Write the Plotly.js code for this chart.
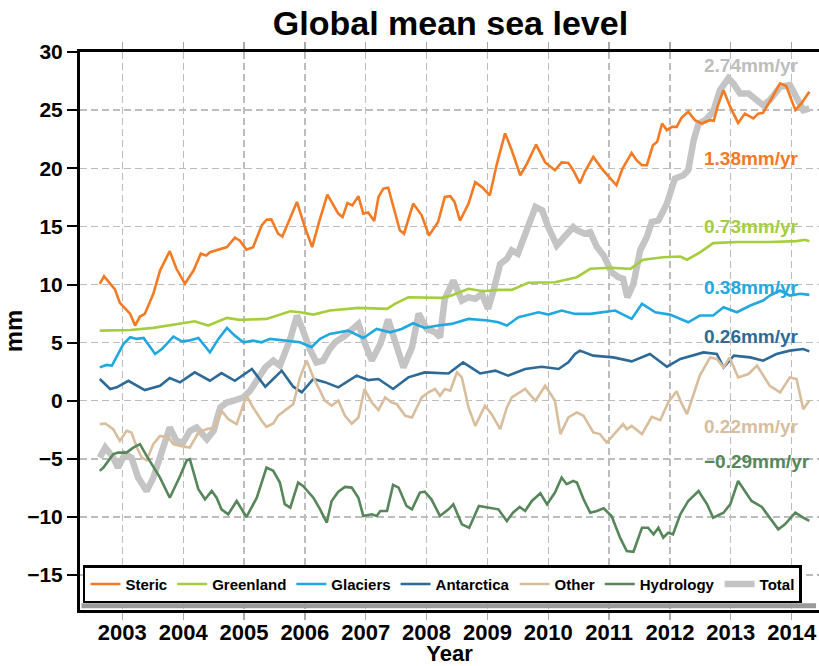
<!DOCTYPE html>
<html>
<head>
<meta charset="utf-8">
<script src="https://cdn.plot.ly/plotly-3.0.1.min.js"></script>
<style>html,body{margin:0;padding:0;background:#fff;}#chart{width:819px;height:666px;}</style>
</head>
<body>
<div id="chart"></div>
<script>
// ---- data ----
const seriesNames = ["Steric","Greenland","Glaciers","Antarctica","Other","Hydrology","Total"];
const rateLabels = ["1.38mm/yr","0.73mm/yr","0.38mm/yr","0.26mm/yr","0.22mm/yr","\u22120.29mm/yr","2.74mm/yr"];
const yearTicks = [2003,2004,2005,2006,2007,2008,2009,2010,2011,2012,2013,2014];
const mmTicks = [-15,-10,-5,0,5,10,15,20,25,30];

const stericX = [2002.63,2002.70,2002.88,2002.96,2003.13,2003.21,2003.29,2003.37,2003.51,2003.62,
 2003.78,2003.89,2004.03,2004.17,2004.29,2004.38,2004.44,2004.72,2004.85,2004.93,
 2005.04,2005.15,2005.29,2005.37,2005.45,2005.56,2005.63,2005.76,2005.87,2006.00,
 2006.12,2006.24,2006.37,2006.55,2006.62,2006.70,2006.78,2006.88,2006.96,2007.04,
 2007.14,2007.21,2007.29,2007.37,2007.48,2007.56,2007.63,2007.78,2007.92,2008.04,
 2008.19,2008.30,2008.39,2008.46,2008.55,2008.69,2008.80,2008.91,2009.04,2009.15,
 2009.29,2009.40,2009.54,2009.65,2009.80,2009.95,2010.11,2010.22,2010.33,2010.41,
 2010.52,2010.60,2010.74,2010.90,2011.12,2011.22,2011.37,2011.45,2011.54,2011.62,
 2011.72,2011.79,2011.87,2011.95,2012.03,2012.11,2012.19,2012.30,2012.41,2012.52,
 2012.66,2012.72,2012.79,2012.88,2012.99,2013.12,2013.23,2013.37,2013.45,2013.53,
 2013.67,2013.81,2013.91,2014.06,2014.16,2014.29];
const stericY = [10.06,10.7,9.57,8.42,7.47,6.47,7.24,7.47,9.2,11.2,
 12.87,11.35,10.06,11.2,12.65,12.5,12.78,13.22,14.02,13.79,
 13.0,13.2,15.09,15.57,15.6,14.37,14.13,15.8,17.1,14.94,
 13.22,15.5,17.73,16.1,15.8,17.0,16.8,17.6,16.1,16.2,
 15.46,17.53,18.25,18.33,16.1,14.66,14.37,16.96,15.95,14.22,
 15.37,17.53,17.6,17.1,15.5,16.96,18.8,18.38,17.67,20.26,
 23.0,21.55,19.4,20.4,22.04,20.5,19.83,20.5,20.46,19.83,
 18.7,19.7,20.97,19.83,18.53,19.97,21.32,20.7,20.26,20.26,
 21.98,22.27,23.85,23.28,23.56,23.56,24.34,24.86,24.14,23.85,
 24.14,24.08,25.43,26.72,25.28,23.9,24.7,24.28,24.7,24.77,
 26.0,27.3,27.07,25.0,25.57,26.58];

const greenlandX = [2002.63,2003.13,2003.51,2003.95,2004.19,2004.41,2004.72,2004.93,2005.37,2005.76,
 2005.92,2006.14,2006.41,2006.88,2007.35,2007.48,2007.70,2008.25,2008.41,2008.69,
 2008.93,2009.18,2009.40,2009.67,2010.11,2010.47,2010.69,2011.02,2011.35,2011.56,
 2011.89,2012.17,2012.28,2012.50,2012.71,2013.10,2013.64,2014.08,2014.22,2014.29];
const greenlandY = [6.03,6.09,6.27,6.67,6.84,6.47,7.13,6.96,7.04,7.7,
 7.61,7.41,7.76,7.99,7.9,8.34,8.9,8.85,9.05,9.63,
 9.42,9.54,9.54,10.15,10.2,10.63,11.35,11.44,11.35,12.13,
 12.35,12.41,12.13,12.78,13.56,13.65,13.65,13.73,13.85,13.73];

const glaciersX = [2002.63,2002.74,2002.83,2003.02,2003.13,2003.24,2003.35,2003.54,2003.65,2003.84,
 2003.98,2004.09,2004.25,2004.44,2004.58,2004.72,2004.85,2004.99,2005.15,2005.29,
 2005.43,2005.59,2005.76,2005.92,2006.11,2006.25,2006.41,2006.55,2006.71,2006.96,
 2007.18,2007.40,2007.59,2007.78,2007.97,2008.19,2008.41,2008.69,2009.01,2009.18,
 2009.32,2009.51,2009.84,2010.00,2010.22,2010.44,2010.69,2011.10,2011.37,2011.54,
 2011.76,2012.00,2012.30,2012.49,2012.71,2012.88,2013.10,2013.32,2013.53,2013.64,
 2013.81,2013.97,2014.14,2014.29];
const glaciersY = [2.87,3.08,3.02,4.89,5.46,5.32,5.4,4.02,4.45,5.52,
 5.11,5.17,5.4,4.16,5.32,6.27,5.6,5.03,5.17,5.03,
 5.32,5.23,5.17,5.03,4.6,5.32,5.75,5.89,6.03,5.4,
 6.18,5.89,6.18,6.67,6.27,6.47,6.61,7.04,6.9,6.75,
 6.47,7.18,7.61,7.41,7.76,7.47,7.47,7.76,7.04,8.34,
 7.61,7.41,6.75,7.33,7.33,8.04,7.61,8.19,8.62,9.05,
 9.48,9.05,9.2,9.11];

const antarcticaX = [2002.63,2002.80,2002.91,2003.10,2003.37,2003.62,2003.78,2003.95,2004.19,2004.44,
 2004.63,2004.85,2005.13,2005.35,2005.62,2005.81,2005.95,2006.14,2006.33,2006.55,
 2006.85,2007.04,2007.21,2007.45,2007.70,2007.97,2008.36,2008.60,2008.88,2009.13,
 2009.34,2009.62,2009.89,2010.17,2010.33,2010.44,2010.52,2010.74,2011.07,2011.37,
 2011.67,2011.95,2012.17,2012.55,2012.77,2012.88,2013.05,2013.32,2013.53,2013.75,
 2013.97,2014.19,2014.29];
const antarcticaY = [1.87,1.01,1.15,1.72,0.92,1.29,1.95,1.58,2.44,1.72,
 2.38,1.72,2.73,1.21,2.59,1.21,0.72,1.87,1.6,1.15,
 2.16,1.78,1.87,1.01,2.01,2.44,2.35,3.3,2.35,2.59,
 2.16,2.73,2.93,2.73,3.3,4.02,4.31,3.88,3.73,3.39,
 4.02,2.93,3.6,4.16,4.02,2.87,3.88,3.73,3.45,4.02,
 4.31,4.45,4.25];

const otherX = [2002.63,2002.72,2002.85,2002.96,2003.07,2003.15,2003.24,2003.32,2003.40,2003.51,
 2003.62,2003.76,2003.84,2003.95,2004.11,2004.25,2004.39,2004.52,2004.63,2004.74,
 2004.88,2005.04,2005.15,2005.29,2005.37,2005.48,2005.56,2005.73,2005.81,2005.92,
 2006.03,2006.14,2006.25,2006.33,2006.44,2006.55,2006.66,2006.77,2006.88,2006.98,
 2007.10,2007.21,2007.32,2007.43,2007.51,2007.65,2007.76,2007.92,2008.03,2008.14,
 2008.22,2008.30,2008.39,2008.50,2008.58,2008.69,2008.80,2008.96,2009.07,2009.21,
 2009.32,2009.40,2009.62,2009.79,2009.95,2010.11,2010.20,2010.33,2010.47,2010.58,
 2010.74,2010.85,2010.96,2011.23,2011.29,2011.37,2011.54,2011.70,2011.84,2011.97,
 2012.11,2012.17,2012.28,2012.41,2012.49,2012.66,2012.77,2012.88,2012.98,2013.12,
 2013.29,2013.43,2013.64,2013.81,2013.97,2014.08,2014.19,2014.29];
const otherY = [-2.01,-1.96,-2.44,-3.45,-2.59,-2.73,-4.02,-4.89,-5.11,-3.73,
 -3.02,-3.16,-3.73,-3.88,-4.02,-2.73,-2.44,-2.3,-0.86,-1.58,
 -2.01,0.43,-0.58,-1.72,-2.24,-1.96,-1.29,-0.58,-0.29,2.01,
 3.45,2.01,0.86,0.0,-0.43,0.0,-1.29,-1.96,-1.44,1.01,
 -0.15,-0.8,0.29,-0.15,-0.29,-1.29,-1.44,0.29,0.72,1.01,
 0.43,1.01,0.86,2.44,2.01,-0.58,-2.16,-0.43,-1.15,-2.44,
 -0.58,0.29,1.01,0.0,1.29,0.0,-2.87,-1.44,-1.0,-1.29,
 -2.73,-2.87,-3.6,-2.01,-2.44,-2.16,-2.87,-1.38,-1.67,-0.15,
 0.81,0.0,-1.15,1.01,2.16,3.73,3.6,2.87,3.73,2.01,
 2.3,3.02,1.29,0.72,2.01,1.87,-0.72,0.0];

const hydrologyX = [2002.63,2002.69,2002.85,2002.93,2003.07,2003.18,2003.29,2003.40,2003.62,2003.78,
 2003.95,2004.06,2004.11,2004.25,2004.36,2004.47,2004.55,2004.63,2004.74,2004.88,
 2005.04,2005.21,2005.37,2005.48,2005.59,2005.67,2005.76,2005.89,2005.97,2006.14,
 2006.25,2006.36,2006.44,2006.55,2006.66,2006.77,2006.88,2006.96,2007.10,2007.18,
 2007.24,2007.35,2007.45,2007.54,2007.67,2007.76,2007.89,2007.97,2008.08,2008.22,
 2008.36,2008.44,2008.58,2008.70,2008.86,2009.01,2009.18,2009.32,2009.42,2009.53,
 2009.62,2009.73,2009.87,2009.98,2010.11,2010.22,2010.30,2010.41,2010.47,2010.58,
 2010.69,2010.80,2010.91,2011.04,2011.18,2011.29,2011.40,2011.54,2011.64,2011.73,
 2011.81,2011.89,2011.97,2012.05,2012.17,2012.30,2012.47,2012.61,2012.71,2012.88,
 2012.99,2013.12,2013.26,2013.34,2013.51,2013.64,2013.78,2013.89,2014.06,2014.19,
 2014.29];
const hydrologyY = [-6.03,-5.75,-4.6,-4.46,-4.46,-4.03,-3.73,-4.74,-6.61,-8.34,
 -6.47,-5.11,-5.03,-7.61,-8.48,-7.76,-8.34,-9.34,-9.77,-8.62,
 -10.0,-8.34,-5.75,-6.03,-7.04,-8.9,-9.2,-7.04,-7.33,-8.34,
 -9.34,-10.49,-8.62,-7.82,-7.41,-7.47,-8.34,-9.91,-9.77,-9.91,
 -9.48,-9.48,-7.24,-7.47,-9.05,-9.34,-7.9,-7.82,-8.48,-9.91,
 -9.34,-8.91,-10.63,-10.92,-9.05,-9.2,-9.34,-10.34,-9.63,-9.14,
 -9.48,-8.62,-7.96,-8.91,-7.9,-6.61,-7.18,-6.9,-7.04,-8.48,
 -9.63,-9.48,-9.25,-9.91,-11.78,-12.93,-12.99,-10.92,-10.92,-11.49,
 -10.92,-11.78,-11.35,-11.49,-9.77,-8.62,-7.76,-8.91,-10.06,-9.63,
 -8.91,-6.9,-8.05,-8.62,-9.14,-10.06,-11.06,-10.63,-9.63,-10.06,
 -10.34];

const totalX = [2002.63,2002.72,2002.85,2002.93,2003.04,2003.15,2003.26,2003.40,2003.51,2003.62,
 2003.78,2003.89,2004.00,2004.11,2004.22,2004.39,2004.50,2004.61,2004.72,2004.83,
 2004.99,2005.10,2005.21,2005.35,2005.48,2005.59,2005.76,2005.87,2005.97,2006.08,
 2006.19,2006.30,2006.41,2006.50,2006.66,2006.88,2006.99,2007.10,2007.24,2007.37,
 2007.48,2007.62,2007.76,2007.87,2008.00,2008.14,2008.22,2008.30,2008.44,2008.58,
 2008.69,2008.80,2008.91,2009.01,2009.10,2009.21,2009.32,2009.40,2009.50,2009.62,
 2009.79,2009.90,2010.00,2010.14,2010.28,2010.41,2010.47,2010.60,2010.69,2010.80,
 2010.91,2011.04,2011.15,2011.23,2011.30,2011.40,2011.51,2011.62,2011.70,2011.81,
 2011.95,2012.08,2012.22,2012.30,2012.39,2012.47,2012.58,2012.71,2012.82,2012.96,
 2013.04,2013.15,2013.29,2013.43,2013.53,2013.64,2013.81,2013.97,2014.08,2014.19,
 2014.29];
const totalY = [-4.89,-4.03,-4.89,-5.75,-4.6,-4.89,-6.61,-7.76,-6.61,-4.89,
 -2.3,-3.45,-3.6,-2.59,-2.3,-3.3,-2.59,-0.58,-0.15,0.0,
 0.29,0.86,1.72,2.87,3.45,3.02,5.32,7.33,6.03,4.46,
 3.3,3.45,4.46,5.03,5.6,6.61,4.89,3.45,4.89,7.0,
 5.17,2.87,4.6,7.5,6.2,5.89,5.46,8.77,10.34,8.62,
 8.9,8.77,9.2,7.9,9.48,11.78,12.21,12.93,12.65,14.37,
 16.67,16.38,14.94,13.36,14.08,14.94,14.66,14.37,14.51,13.22,
 12.5,11.06,10.63,10.49,8.9,10.06,12.93,14.08,15.37,15.51,
 16.96,19.11,19.4,19.83,22.41,23.85,24.14,24.86,26.72,27.73,
 27.3,26.44,26.44,25.86,25.43,25.86,27.0,27.16,26.15,25.0,
 25.14];

// ---- styling ----
const colors = ["#F47A24","#A5CD3C","#22A8E0","#2D6A97","#D8BE9D","#57865B","#C4C4C4"];
const FONT = "Liberation Sans, Arial, sans-serif";

const xs = [stericX, greenlandX, glaciersX, antarcticaX, otherX, hydrologyX, totalX];
const ys = [stericY, greenlandY, glaciersY, antarcticaY, otherY, hydrologyY, totalY];

const traces = [];
// Total drawn first (underneath), legend order kept with legendrank
const drawOrder = [6,0,1,2,3,4,5];
drawOrder.forEach(i => {
  const n = Math.min(xs[i].length, ys[i].length);
  traces.push({
    type: "scatter", mode: "lines", name: seriesNames[i],
    x: xs[i].slice(0,n), y: ys[i].slice(0,n),
    line: {color: colors[i], width: i === 6 ? 6.5 : 2.6},
    legendrank: i + 1,
    hoverinfo: "skip"
  });
});

// rate labels (left aligned near right edge)
const labelY = [0.8095, 0.6864, 0.5783, 0.4898, 0.3285, 0.2658, 0.9767];
const labelColors = ["#F47A24","#A5CD3C","#22A8E0","#2D6A97","#D8BE9D","#57865B","#BDBDBD"];
const annotations = rateLabels.map((t, i) => ({
  text: t, xref: "paper", yref: "paper", x: 0.8417, y: labelY[i],
  xanchor: "left", yanchor: "middle", showarrow: false,
  font: {family: FONT, size: 19, color: labelColors[i], weight: 700}
}));

const layout = {
  width: 819, height: 666,
  margin: {l: 80, r: 0, t: 52, b: 56, pad: 0},
  paper_bgcolor: "#ffffff", plot_bgcolor: "#ffffff",
  font: {family: FONT, color: "#000"},
  title: {text: "Global mean sea level", x: 0.55, xanchor: "center", xref: "container",
          y: 0.966, yanchor: "middle", yref: "container",
          font: {family: FONT, size: 34, weight: 700, color: "#000"}},
  xaxis: {
    range: [2002.305, 2014.449], tickmode: "array", tickvals: yearTicks,
    ticktext: yearTicks.map(String),
    showgrid: true, gridcolor: "#bdbdbd", gridwidth: 1.3, griddash: "7px,4px",
    zeroline: false, showline: true, linecolor: "#000", linewidth: 3, mirror: "ticks",
    ticks: "outside", ticklen: 7, tickwidth: 1.3, tickcolor: "#aaaaaa",
    ticklabelstandoff: -6,
    tickfont: {family: FONT, size: 22, weight: 700, color: "#000"},
    title: {text: "Year", standoff: 0, font: {family: FONT, size: 22, weight: 700, color: "#000"}}
  },
  yaxis: {
    range: [-18, 30], tickmode: "array", tickvals: mmTicks,
    showgrid: true, gridcolor: "#bdbdbd", gridwidth: 1.3, griddash: "7px,4px",
    zeroline: false, showline: true, linecolor: "#000", linewidth: 3, mirror: false,
    ticks: "outside", ticklen: 10, tickwidth: 2, tickcolor: "#000",
    tickfont: {family: FONT, size: 21, weight: 700, color: "#000"},
    title: {text: "mm", standoff: 8, font: {family: FONT, size: 24, weight: 700, color: "#000"}}
  },
  showlegend: true,
  legend: {
    orientation: "h", x: 0.004, y: 0.012, xanchor: "left", yanchor: "bottom",
    xref: "paper", yref: "paper",
    bgcolor: "#ffffff", bordercolor: "#000", borderwidth: 2.5,
    font: {family: FONT, size: 15, weight: 700, color: "#000"},
    itemwidth: 30, traceorder: "normal"
  },
  shapes: [{
    type: "rect", xref: "paper", yref: "paper", x0: 0.002, x1: 0.996, y0: 0.003, y1: 0.012,
    fillcolor: "#9a9a9a", line: {width: 0}, layer: "above"
  }],
  annotations: annotations
};

Plotly.newPlot("chart", traces, layout, {displayModeBar: false, staticPlot: true});
</script>
</body>
</html>
